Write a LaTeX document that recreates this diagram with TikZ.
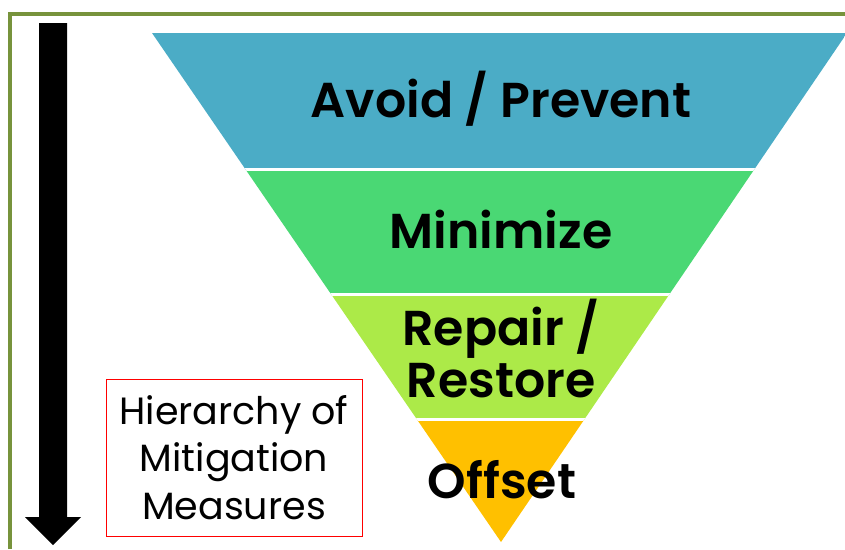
\documentclass[tikz,border=0pt]{standalone}
\usepackage{fontspec}
\setmainfont{Poppins}[BoldFont={Poppins SemiBold}]
\definecolor{frameGreen}{HTML}{77933C}
\definecolor{avoidBlue}{HTML}{4BACC6}
\definecolor{minGreen}{HTML}{4AD874}
\definecolor{repairGreen}{HTML}{ACEA48}
\definecolor{offsetOrange}{HTML}{FFC000}
\begin{document}
\begin{tikzpicture}[x=1pt,y=-1pt,
  level/.style={font=\bfseries\fontsize{49}{52}\selectfont, anchor=base},
  gap/.style={white, line width=3pt}]
\useasboundingbox (0,0) rectangle (845,549);
\draw[frameGreen, line width=4pt] (10.3,549) -- (10.3,13.5) -- (845,13.5);

% funnel
\begin{scope}
\clip (152,33) -- (847,33) -- (501,542) -- cycle;
\fill[avoidBlue] (140,33) rectangle (850,169.5);
\fill[minGreen] (140,169.5) rectangle (850,294.5);
\fill[repairGreen] (140,294.5) rectangle (850,419.5);
\fill[offsetOrange] (140,419.5) rectangle (850,545);
\draw[gap] (140,169.5) -- (850,169.5);
\draw[gap] (140,294.5) -- (850,294.5);
\draw[gap] (140,419.5) -- (850,419.5);
\end{scope}

\node[level] (avoid) at (501,117) {Avoid / Prevent};
\node[level] (minimize) at (501,248) {Minimize};
\node[level] (repair) at (501,345) {Repair /};
\node[level] (restore) at (501,397) {Restore};
\node[level] (offset) at (502,498) {Offset};

% arrow
\fill (39,23) -- (67,23) -- (67,517) -- (81,517) -- (53,545) -- (25,517) -- (39,517) -- cycle;

\node[draw=red, line width=1pt, minimum width=256pt, minimum height=157pt, align=center,
  font=\fontsize{38}{47.5}\selectfont] (hier) at (234,457.5) {\raisebox{-3pt}{Hierarchy of}\\\raisebox{-3pt}{Mitigation}\\\raisebox{-3pt}{Measures}};
\end{tikzpicture}
\end{document}
